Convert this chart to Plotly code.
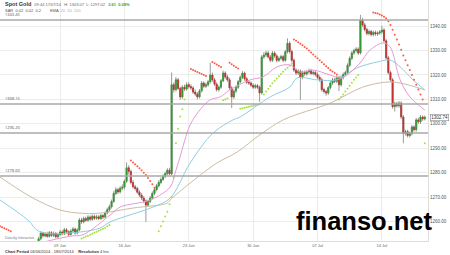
import plotly.graph_objects as go

# ---------------- data (4-hour candles, index 0 = 02 Jun 2014) ----------------
closes = [
    1244.5, 1245.2, 1244.0, 1243.6, 1244.8, 1245.5,
    1244.2, 1243.5, 1244.6, 1245.3, 1244.1, 1244.7,
    1245.8, 1244.9, 1243.8, 1244.5, 1245.2, 1244.6,
    1246.5, 1248.2, 1252.9, 1255.3, 1254.1, 1255.0,
    1253.9, 1255.4, 1254.3, 1255.1, 1253.7, 1254.6,
    1255.7, 1254.9, 1256.6, 1255.8, 1254.7, 1256.1,
    1256.9, 1255.3, 1256.5, 1260.6, 1259.8, 1261.2,
    1260.5, 1261.8, 1260.9, 1262.1, 1261.3, 1261.9,
    1261.2, 1262.4, 1261.8, 1263.5, 1264.8, 1266.0,
    1268.2, 1271.5, 1273.0, 1272.1, 1273.6, 1274.0,
    1276.5, 1282.0, 1280.5, 1276.0, 1274.2, 1273.5,
    1272.0, 1270.8, 1269.6, 1268.4, 1266.7, 1268.2,
    1269.6, 1271.5, 1273.0, 1274.6, 1276.0, 1277.2,
    1278.5, 1279.6, 1281.0, 1279.5, 1316.0, 1314.0,
    1318.0, 1314.5, 1311.0, 1315.0, 1314.2, 1316.0,
    1315.2, 1314.7, 1313.0, 1312.2, 1311.0, 1313.5,
    1316.7, 1315.4, 1316.0, 1317.2, 1320.0, 1318.0,
    1316.2, 1314.0, 1315.0, 1317.6, 1320.8, 1319.2,
    1318.0, 1314.7, 1311.0, 1313.4, 1315.0, 1317.2,
    1319.0, 1320.8, 1318.4, 1317.0, 1316.7, 1315.8,
    1315.0, 1315.6, 1315.0, 1312.6, 1327.4, 1328.2,
    1329.0, 1327.4, 1326.0, 1329.0, 1327.8, 1326.0,
    1326.8, 1327.5, 1326.0, 1329.5, 1333.0, 1329.6,
    1326.0, 1322.0, 1320.8, 1321.6, 1319.0, 1321.0,
    1320.4, 1321.2, 1321.8, 1320.6, 1321.0, 1320.2,
    1319.0, 1318.0, 1314.0, 1313.2, 1312.6, 1314.8,
    1316.7, 1318.0, 1317.4, 1319.0, 1316.0, 1319.0,
    1320.2, 1321.0, 1324.0, 1326.8, 1329.0, 1330.0,
    1330.6, 1329.0, 1342.5, 1340.5, 1338.6, 1337.0,
    1337.8, 1336.6, 1337.4, 1336.8, 1337.2, 1337.6,
    1338.4, 1334.0, 1327.0, 1321.0, 1318.0, 1307.0,
    1308.2, 1307.4, 1308.5, 1302.8, 1296.0, 1296.8,
    1295.2, 1296.0, 1298.7, 1297.6, 1301.6, 1300.8,
    1302.8, 1302.0, 1302.7,
]
first_open = 1244.0
highs = [
    1245.3, 1246.0, 1245.8, 1244.9, 1245.4, 1246.2,
    1246.1, 1244.9, 1245.2, 1246.0, 1245.9, 1245.4,
    1246.4, 1246.3, 1245.3, 1245.0, 1245.9, 1245.8,
    1247.0, 1249.0, 1253.7, 1256.1, 1255.8, 1255.7,
    1255.8, 1256.1, 1256.0, 1255.9, 1255.7, 1255.4,
    1256.5, 1256.4, 1257.4, 1257.3, 1256.4, 1256.8,
    1257.7, 1257.5, 1257.3, 1261.4, 1261.5, 1262.0,
    1262.0, 1262.6, 1262.5, 1262.9, 1262.8, 1262.7,
    1262.6, 1263.1, 1263.0, 1264.2, 1265.6, 1266.9,
    1269.0, 1272.4, 1274.0, 1273.8, 1274.5, 1275.2,
    1277.2, 1284.2, 1283.0, 1281.2, 1277.0, 1275.0,
    1274.2, 1272.8, 1271.6, 1270.4, 1269.0, 1269.0,
    1270.4, 1272.3, 1273.8, 1275.4, 1276.9, 1278.0,
    1279.3, 1280.4, 1281.8, 1282.0, 1321.0, 1317.0,
    1319.2, 1318.8, 1315.2, 1315.8, 1316.0, 1317.0,
    1317.0, 1316.2, 1315.4, 1314.0, 1313.0, 1314.2,
    1317.5, 1317.4, 1316.9, 1318.0, 1325.0, 1321.0,
    1318.8, 1317.0, 1315.8, 1318.4, 1321.8, 1321.5,
    1320.0, 1318.8, 1315.4, 1314.2, 1315.8, 1318.0,
    1319.8, 1321.6, 1321.4, 1319.2, 1317.8, 1317.4,
    1316.6, 1316.4, 1316.3, 1315.7, 1328.2, 1329.4,
    1330.0, 1329.8, 1328.2, 1329.8, 1329.7, 1328.5,
    1327.6, 1328.3, 1328.2, 1330.3, 1335.0, 1333.8,
    1330.4, 1326.8, 1322.8, 1322.4, 1322.3, 1321.8,
    1321.8, 1322.0, 1322.6, 1322.5, 1321.8, 1321.7,
    1321.0, 1319.8, 1318.8, 1314.8, 1314.0, 1315.6,
    1317.5, 1318.8, 1318.8, 1319.8, 1319.7, 1319.8,
    1321.0, 1321.8, 1324.8, 1327.6, 1329.8, 1330.8,
    1331.4, 1331.3, 1344.6, 1343.4, 1341.3, 1339.4,
    1338.6, 1338.5, 1338.2, 1338.2, 1337.9, 1338.4,
    1340.2, 1339.2, 1334.8, 1327.8, 1321.8, 1318.8,
    1309.0, 1309.0, 1309.3, 1309.2, 1303.6, 1297.6,
    1297.6, 1296.8, 1299.5, 1299.4, 1302.4, 1302.4,
    1303.6, 1303.4, 1303.4,
]
lows = [
    1243.2, 1244.0, 1243.5, 1242.8, 1243.0, 1244.2,
    1243.6, 1242.8, 1243.0, 1244.0, 1243.5, 1243.6,
    1244.1, 1244.3, 1243.1, 1243.2, 1244.0, 1244.0,
    1244.0, 1245.9, 1247.6, 1252.3, 1253.4, 1253.5,
    1253.3, 1253.4, 1253.7, 1253.6, 1253.0, 1253.1,
    1254.0, 1254.3, 1254.4, 1255.2, 1254.0, 1254.2,
    1255.5, 1254.6, 1254.7, 1256.0, 1259.0, 1259.2,
    1259.8, 1259.9, 1260.2, 1260.3, 1260.6, 1260.7,
    1260.5, 1260.6, 1261.0, 1261.2, 1262.9, 1264.1,
    1265.3, 1267.6, 1270.8, 1271.2, 1271.5, 1272.8,
    1273.2, 1275.8, 1279.2, 1275.2, 1273.4, 1272.6,
    1271.3, 1270.0, 1268.8, 1267.5, 1259.8, 1265.9,
    1267.5, 1268.9, 1270.8, 1272.3, 1273.9, 1275.3,
    1276.6, 1277.8, 1278.9, 1278.8, 1278.9, 1312.8,
    1313.2, 1313.8, 1309.8, 1310.2, 1313.4, 1313.6,
    1314.4, 1313.8, 1312.2, 1311.4, 1310.0, 1310.4,
    1312.8, 1314.6, 1314.7, 1315.2, 1316.5, 1317.2,
    1315.5, 1313.2, 1313.2, 1314.3, 1317.0, 1318.4,
    1317.2, 1313.9, 1306.5, 1310.2, 1312.6, 1314.3,
    1316.5, 1318.3, 1317.6, 1316.2, 1315.9, 1315.0,
    1314.2, 1314.3, 1314.2, 1309.0, 1312.0, 1326.6,
    1327.4, 1326.7, 1325.2, 1325.3, 1327.0, 1325.2,
    1325.3, 1326.1, 1325.2, 1325.4, 1328.8, 1328.8,
    1325.2, 1321.2, 1319.9, 1320.0, 1309.8, 1318.2,
    1319.6, 1319.7, 1320.5, 1319.9, 1319.8, 1319.4,
    1318.2, 1317.2, 1313.2, 1312.4, 1311.5, 1311.8,
    1314.0, 1315.9, 1316.6, 1316.6, 1313.4, 1315.2,
    1318.2, 1319.4, 1320.2, 1323.2, 1326.0, 1328.2,
    1329.2, 1328.2, 1328.4, 1339.7, 1337.8, 1336.2,
    1336.2, 1335.8, 1335.8, 1336.0, 1336.0, 1336.4,
    1336.8, 1333.2, 1326.2, 1320.2, 1317.2, 1306.2,
    1305.0, 1306.6, 1306.6, 1302.0, 1292.0, 1295.2,
    1294.4, 1294.4, 1295.2, 1296.8, 1296.8, 1300.0,
    1300.0, 1301.2, 1301.4,
]

# EMA lines (read at sample candle positions)
ema20_x = [2, 20, 35, 40.7, 53.3, 58, 72, 81.3, 83.6, 85.9, 90.6, 95.2, 99.9, 104.6, 109.2,
           118.6, 124.6, 131.1, 137.2, 141.9, 147.9, 155.8, 160.5, 163.8, 169.8, 174.5,
           180.6, 183.8, 188.5, 193.1, 200]
ema20_y = [1246.0, 1251.0, 1254.0, 1254.6, 1262.6, 1265.9, 1268.8, 1274.1, 1279.8, 1286.4,
           1299.5, 1305.7, 1309.8, 1311.0, 1313.9, 1318.0, 1319.2, 1323.3, 1324.1, 1321.2,
           1322.0, 1320.0, 1318.8, 1320.0, 1324.9, 1330.2, 1333.1, 1331.5, 1318.0, 1311.0,
           1305.7]
ema50_x = [2, 15, 20.6, 39.3, 48.6, 53.3, 73.3, 81.3, 90.6, 101.3, 110.6, 113.9, 127.9,
           137.2, 140.5, 149.8, 159.1, 168.4, 177.8, 183.8, 188.5, 194.5, 200]
ema50_y = [1268.8, 1260.6, 1255.7, 1255.7, 1257.3, 1259.8, 1265.9, 1269.6, 1283.9, 1296.2,
           1301.6, 1302.8, 1311.0, 1315.1, 1318.8, 1318.0, 1318.0, 1322.9, 1325.3, 1326.1,
           1323.3, 1318.0, 1313.9]
ema200_x = [2, 17.4, 30, 39.3, 48.6, 64, 79.9, 81.3, 90.6, 103, 112.5, 123, 134, 156, 171,
            182.4, 188.5, 200]
ema200_y = [1278.2, 1269.6, 1264.7, 1263.4, 1263.4, 1265.5, 1267.5, 1268.8, 1275.7, 1283.9,
            1288.4, 1295.4, 1301.6, 1308.5, 1315.0, 1317.1, 1316.7, 1313.9]

# Parabolic SAR dots
sar_red_x = [2, 3, 4, 5, 6, 7,
             63, 64, 65, 66, 67, 68, 69, 70, 71, 72, 73, 74,
             91, 92, 93, 94, 95, 96, 97, 98,
             101, 102, 103, 104, 105,
             109, 110, 111, 112, 113,
             139, 140, 141, 142, 143, 144, 145, 146, 147, 148, 149, 150, 151, 152, 153, 154,
             155, 156, 157, 158, 159,
             176, 177, 178, 179, 180, 181, 182, 183, 184, 185, 186, 187, 188, 189, 190, 191,
             192, 193, 194, 195, 196, 197, 198, 199]
sar_red_y = [1258.0, 1257.6, 1257.2, 1256.8, 1256.4, 1256.0,
             1285.0, 1284.2, 1283.4, 1282.6, 1281.8, 1281.0, 1280.0, 1279.0, 1277.8, 1276.6,
             1275.2, 1273.8,
             1322.4, 1322.0, 1321.6, 1321.2, 1320.8, 1320.4, 1320.0, 1319.6,
             1325.3, 1324.8, 1324.3, 1323.8, 1323.3,
             1325.0, 1324.4, 1323.8, 1323.2, 1322.6,
             1334.5, 1334.0, 1333.4, 1332.8, 1332.2, 1331.5, 1330.8, 1330.0, 1329.2, 1328.4,
             1327.6, 1326.8, 1326.0, 1325.2, 1324.4, 1323.6, 1322.8, 1322.0, 1321.4, 1320.8,
             1320.2,
             1345.6, 1345.4, 1345.2, 1344.8, 1344.4, 1343.8, 1343.2, 1342.0, 1340.5, 1338.5,
             1336.5, 1334.5, 1332.5, 1330.3, 1328.0, 1326.0, 1324.0, 1322.0, 1320.0, 1318.0,
             1316.0, 1314.0, 1312.0, 1310.0]
sar_green_x = [40, 41, 42, 43, 44, 45, 46, 47, 48, 49, 50, 51, 52, 53,
               76, 77, 78, 79, 80, 81, 82, 83, 84, 85, 86, 87, 88,
               106, 107, 108,
               114, 115, 116, 117, 118, 119, 120, 121, 122, 123,
               125, 126, 127, 128, 129, 130, 131, 132, 133, 134, 135, 136, 137, 138,
               160, 161, 162, 163, 164, 165, 166, 167, 168, 169,
               200]
sar_green_y = [1253.0, 1253.4, 1253.8, 1254.2, 1254.6, 1255.0, 1255.4, 1255.8, 1256.2, 1256.6,
               1257.0, 1257.4, 1258.0, 1258.6,
               1256.0, 1258.0, 1260.0, 1262.0, 1264.0, 1267.0, 1270.0, 1278.0, 1292.0, 1298.0,
               1303.0, 1306.0, 1310.0,
               1309.6, 1310.0, 1310.4,
               1306.2, 1306.4, 1306.6, 1306.8, 1307.0, 1307.2, 1307.4, 1307.6, 1307.8, 1308.0,
               1312.0, 1313.2, 1314.4, 1315.5, 1316.6, 1317.6, 1318.6, 1319.5, 1320.4, 1321.3,
               1322.2, 1323.0, 1323.8, 1324.6,
               1310.0, 1311.0, 1312.0, 1313.2, 1314.4, 1315.6, 1316.8, 1318.0, 1319.0, 1320.0,
               1292.0]

support_levels = [1342.5, 1308.1, 1296.2, 1278.6]
support_labels = ["1343.45", "1308.15", "1296.20", "1278.60"]

y_ticks = [1260, 1270, 1280, 1290, 1300, 1310, 1320, 1330, 1340]
x_tick_pos = [30, 60, 90, 120, 150, 180]
x_tick_text = ["09 Jun", "16 Jun", "23 Jun", "30 Jun", "07 Jul", "14 Jul"]
last_price = 1302.74

# ---------------- figure ----------------
idx = list(range(len(closes)))
opens = [first_open] + closes[:-1]
body_hi = [max(o, c) for o, c in zip(opens, closes)]
body_lo = [min(o, c) for o, c in zip(opens, closes)]

W, H = 450, 255
ML, MR, MT, MB = 0, 22, 0, 14
PW, PH = W - ML - MR, H - MT - MB

def px(x):
    return (x - ML) / PW

def py(y):
    return 1 - (y - MT) / PH

fig = go.Figure()

# wicks (grey)
fig.add_trace(go.Candlestick(
    x=idx, open=opens, high=highs, low=lows, close=closes,
    increasing=dict(line=dict(color="#9a9a9a", width=1), fillcolor="#9a9a9a"),
    decreasing=dict(line=dict(color="#9a9a9a", width=1), fillcolor="#9a9a9a"),
    whiskerwidth=0, hoverinfo="skip", showlegend=False))
# bodies (coloured)
fig.add_trace(go.Candlestick(
    x=idx, open=opens, high=body_hi, low=body_lo, close=closes,
    increasing=dict(line=dict(color="#2f9a2f", width=0.6), fillcolor="#2f9a2f"),
    decreasing=dict(line=dict(color="#c4302b", width=0.6), fillcolor="#c4302b"),
    whiskerwidth=0, hoverinfo="skip", showlegend=False))

for xs, ys, col in [(ema200_x, ema200_y, "#cdbca3"), (ema50_x, ema50_y, "#8ccfe2"),
                    (ema20_x, ema20_y, "#e89ad4")]:
    fig.add_trace(go.Scatter(x=xs, y=ys, mode="lines", line=dict(color=col, width=1, shape="spline"),
                             hoverinfo="skip", showlegend=False))

fig.add_trace(go.Scatter(x=sar_red_x, y=sar_red_y, mode="markers",
                         marker=dict(color="#ff5a45", size=2), hoverinfo="skip", showlegend=False))
fig.add_trace(go.Scatter(x=sar_green_x, y=sar_green_y, mode="markers",
                         marker=dict(color="#a6e23c", size=2), hoverinfo="skip", showlegend=False))

for lvl, lab in zip(support_levels, support_labels):
    fig.add_shape(type="line", xref="paper", x0=0, x1=1, yref="y", y0=lvl, y1=lvl,
                  line=dict(color="#a8a8a8", width=1.5))
    fig.add_annotation(xref="paper", x=px(3), yref="y", y=lvl, yshift=1.5, text=lab,
                       showarrow=False, xanchor="left", yanchor="bottom",
                       font=dict(size=4, color="#555555"))

ann_font = "Liberation Sans, Arial, sans-serif"
fig.add_annotation(xref="paper", yref="paper", x=px(3), y=py(4), xanchor="left", yanchor="middle",
                   showarrow=False,
                   text="<b>Spot Gold</b>  <span style='font-size:4px;color:#666'>09:44 17/07/14   "
                        "H: 1303.07  L: 1297.02</span>  "
                        "<span style='font-size:4px;color:#2aa52a'><b>3.61  0.28%</b></span>",
                   font=dict(size=5.5, color="#333333", family=ann_font))
fig.add_annotation(xref="paper", yref="paper", x=px(3), y=py(11), xanchor="left", yanchor="middle",
                   showarrow=False,
                   text="SAR  0.02  0.02  0.2        EMA  <span style='color:#e089cc'>20</span>  "
                        "<span style='color:#6fc0dc'>50</span>  <span style='color:#c9ae86'>200</span>",
                   font=dict(size=4, color="#555555", family=ann_font))
fig.add_annotation(xref="paper", yref="paper", x=px(3), y=py(238), xanchor="left", yanchor="middle",
                   showarrow=False, text="Data by Interactive",
                   font=dict(size=3.5, color="#777777", family=ann_font))
fig.add_annotation(xref="paper", yref="paper", x=px(3), y=py(251), xanchor="left", yanchor="middle",
                   showarrow=False,
                   text="<b>Chart Period</b> 03/06/2014 - 18/07/2014    <b>Resolution</b> 4 hrs",
                   font=dict(size=4, color="#333333", family=ann_font))
# current price tag
fig.add_annotation(xref="paper", yref="y", x=1, xshift=2, y=last_price, xanchor="left",
                   yanchor="middle", showarrow=False, text=f"{last_price:.2f}",
                   font=dict(size=4.5, color="#333333", family=ann_font),
                   bgcolor="white", bordercolor="#888888", borderwidth=0.6, borderpad=0.6)
# watermark
fig.add_annotation(xref="paper", yref="paper", x=px(364), y=py(221), xanchor="center",
                   yanchor="middle", showarrow=False, text="<b>finanso.net</b>",
                   font=dict(size=25.5, color="#000000", family="Liberation Sans, Arial, sans-serif"))

fig.update_layout(
    width=W, height=H, margin=dict(l=ML, r=MR, t=MT, b=MB),
    paper_bgcolor="white", plot_bgcolor="white", showlegend=False,
    xaxis=dict(range=[2, 201.5], tickvals=x_tick_pos, ticktext=x_tick_text,
               showgrid=True, gridcolor="#ececec", gridwidth=1, zeroline=False,
               showline=True, linecolor="#dddddd", linewidth=1,
               tickfont=dict(size=4, color="#666666", family=ann_font),
               rangeslider=dict(visible=False), ticks=""),
    yaxis=dict(range=[1252.0, 1350.7], side="right", tickvals=y_ticks,
               ticktext=[f"{v:.2f}" for v in y_ticks],
               showgrid=True, gridcolor="#ececec", gridwidth=1, zeroline=False,
               showline=True, linecolor="#dddddd", linewidth=1, ticks="",
               tickfont=dict(size=4.5, color="#555555", family=ann_font)),
)

fig.write_html("out.html")
